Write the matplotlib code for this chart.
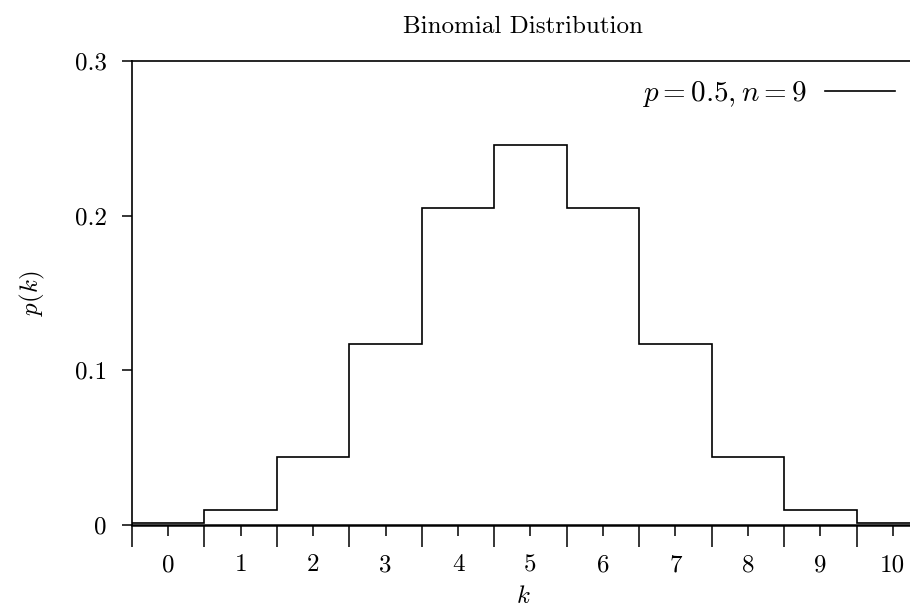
import numpy as np
import matplotlib.pyplot as plt
from matplotlib.ticker import FixedLocator

# probabilities, k = 0..10
k = [0, 1, 2, 3, 4, 5, 6, 7, 8, 9, 10]
pk = [0.001, 0.0098, 0.044, 0.117, 0.205, 0.246, 0.205, 0.117, 0.044, 0.0098, 0.001]
ytick_vals = [0, 0.1, 0.2, 0.3]
ytick_labels = ['0', '0.1', '0.2', '0.3']
legend_label = r'$p = 0.5, n = 9$'

plt.rcParams['font.family'] = 'cmr10'
plt.rcParams['mathtext.fontset'] = 'cm'
plt.rcParams['axes.unicode_minus'] = False

fig = plt.figure(figsize=(9.1, 6.12), dpi=100)
ax = fig.add_axes([0.145, 0.1422, 0.86, 0.7581])

edges = np.arange(len(k) + 1) - 0.5
ax.stairs(pk, edges, color='black', linewidth=1.2, label=legend_label)

ax.set_xlim(-0.5, 10.3)
ax.set_ylim(0, 0.3)

ax.xaxis.set_major_locator(FixedLocator(k))
ax.xaxis.set_minor_locator(FixedLocator(edges[:-1]))
ax.set_xticklabels([str(i) for i in k])
ax.set_yticks(ytick_vals)
ax.set_yticklabels(ytick_labels)

ax.tick_params(axis='x', which='major', direction='out', length=8, width=1.1, labelsize=18, pad=13)
ax.tick_params(axis='x', which='minor', direction='out', length=16, width=1.1)
ax.tick_params(axis='y', which='major', direction='out', length=7, width=1.1, labelsize=18, pad=11)

ax.spines['right'].set_visible(False)
for s in ['top', 'left']:
    ax.spines[s].set_linewidth(1.2)
ax.spines['bottom'].set_linewidth(1.8)

ax.set_title('Binomial Distribution', fontsize=18, pad=20)
ax.set_xlabel('$k$', fontsize=18, labelpad=7)
ax.set_ylabel('$p(k)$', fontsize=18, labelpad=20)

leg = ax.legend(loc='upper right', frameon=False, markerfirst=False, fontsize=21,
                handlelength=2.4, handletextpad=0.62, bbox_to_anchor=(1.008, 1.018))

fig.savefig('out.png', dpi=100)
